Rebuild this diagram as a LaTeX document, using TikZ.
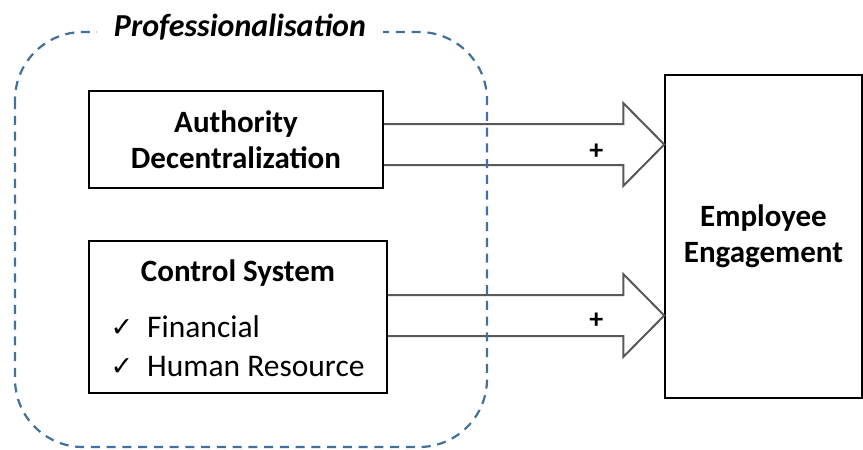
\documentclass[tikz,border=0pt]{standalone}
\usepackage{fontspec}
\setmainfont{Carlito}
\newfontfamily\checkfont{DejaVu Sans}
\usetikzlibrary{calc}
\definecolor{groupblue}{HTML}{41719C}
\definecolor{arrowgray}{HTML}{595959}
\begin{document}
\begin{tikzpicture}[x=1pt,y=-1pt,
  box/.style={draw=black,line width=1.5pt,fill=white,inner sep=0pt},
  bigarrow/.style={draw=arrowgray,line width=2pt,line join=miter},
  group/.style={draw=groupblue,line width=2.2pt,dash pattern=on 9pt off 6.75pt,rounded corners=68pt},
  heading/.style={font=\fontsize{31}{36}\selectfont\bfseries,align=center,inner sep=0pt},
  item/.style={font=\fontsize{31.5}{36}\selectfont,anchor=base west,inner sep=0pt},
  tick/.style={font=\checkfont\fontsize{27}{27}\selectfont,anchor=base,inner sep=0pt},
  plus/.style={font=\fontsize{28}{28}\selectfont\bfseries,inner sep=0pt}]
\useasboundingbox (0,0) rectangle (863,450);
\fill[white] (0,0) rectangle (863,450);

% boxes
\node[box,heading,minimum width=294pt,minimum height=97pt] (auth) at (236,139.5) {Authority\\Decentralization};
\node[box,minimum width=298pt,minimum height=152pt] (ctrl) at (238,317) {};
\node[heading,anchor=base] (ctrlhead) at (238,281) {Control System};
\node[tick] (tick1) at (122,336) {✓};
\node[item] (fin) at (147,337) {Financial};
\node[tick] (tick2) at (122,375) {✓};
\node[item] (hr) at (147,376) {Human Resource};
\node[box,heading,minimum width=197pt,minimum height=323pt] (eng) at (763.5,236.5) {Employee\\Engagement};

% block arrows from the two factors to the outcome
\coordinate (a1s) at ($(auth.east)+(0,5)$);
\coordinate (a1t) at (eng.west |- a1s);
\draw[bigarrow] ($(a1s)+(0,-20.5)$) -- ($(a1t)+(-41,-20.5)$) -- ($(a1t)+(-41,-41.5)$)
  -- (a1t) -- ($(a1t)+(-41,41.5)$) -- ($(a1t)+(-41,20.5)$) -- ($(a1s)+(0,20.5)$);
\node[plus] (p1) at ($(a1t)+(-68,7)$) {+};

\coordinate (a2s) at ($(ctrl.east)+(0,-1.5)$);
\coordinate (a2t) at (eng.west |- a2s);
\draw[bigarrow] ($(a2s)+(0,-20.5)$) -- ($(a2t)+(-41,-20.5)$) -- ($(a2t)+(-41,-41.5)$)
  -- (a2t) -- ($(a2t)+(-41,41.5)$) -- ($(a2t)+(-41,20.5)$) -- ($(a2s)+(0,20.5)$);
\node[plus] (p2) at ($(a2t)+(-68,5)$) {+};

% dashed grouping frame with its title
\draw[group] (15,32) rectangle (487,447);
\node[fill=white,inner xsep=17pt,inner ysep=2pt,font=\fontsize{32}{36}\selectfont\bfseries\itshape] (title) at (240,27) {Professionalisation};
\end{tikzpicture}
\end{document}
